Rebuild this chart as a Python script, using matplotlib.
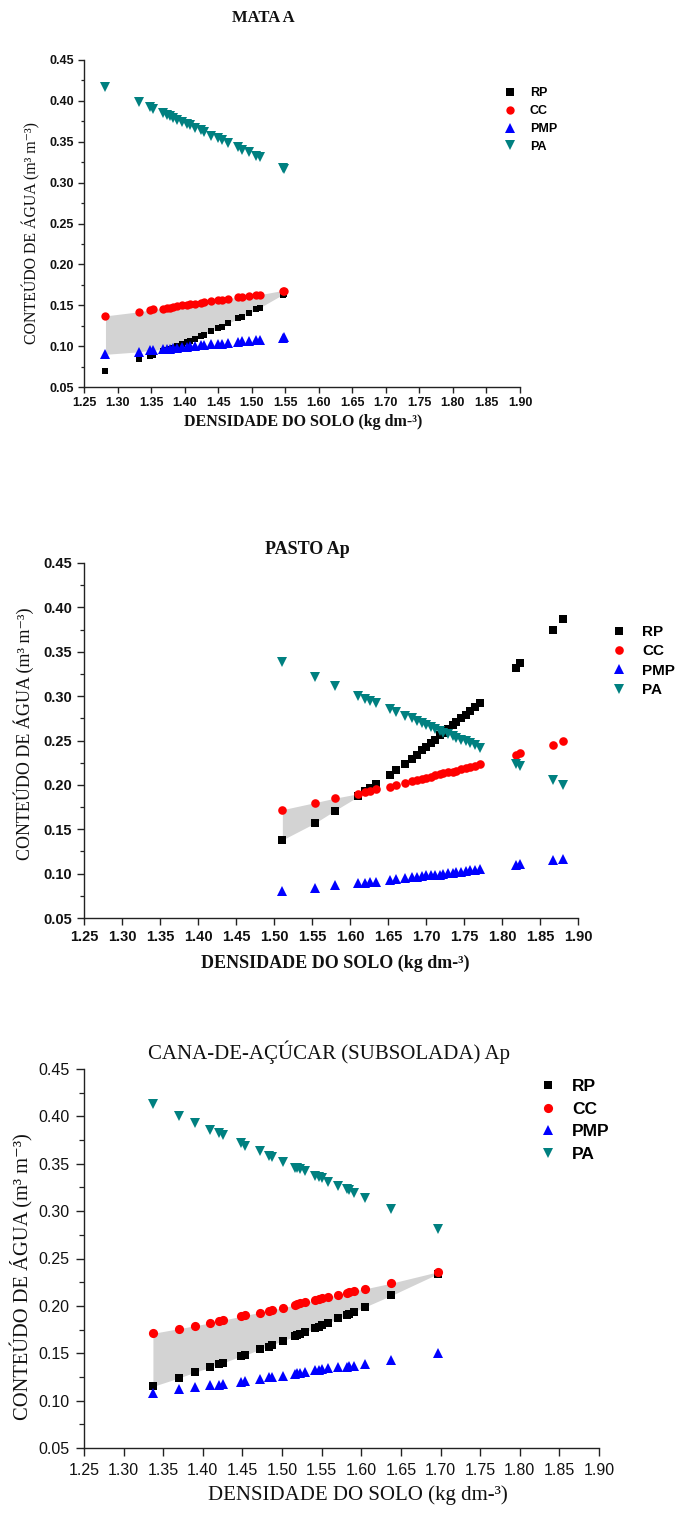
import matplotlib
matplotlib.use("Agg")
import matplotlib.pyplot as plt
import numpy as np
from matplotlib.lines import Line2D
from matplotlib.ticker import MultipleLocator, FormatStrFormatter

# ---------------- DATA ----------------
series_names = ["RP", "CC", "PMP", "PA"]
titles = ["MATA A", "PASTO Ap", "CANA-DE-AÇÚCAR (SUBSOLADA) Ap"]
xlabel_text = "DENSIDADE DO SOLO (kg dm-³)"
ylabel_text = "CONTEÚDO DE ÁGUA (m³ m⁻³)"
x_ticks = [1.25, 1.30, 1.35, 1.40, 1.45, 1.50, 1.55, 1.60, 1.65, 1.70, 1.75, 1.80, 1.85, 1.90]
y_ticks = [0.05, 0.10, 0.15, 0.20, 0.25, 0.30, 0.35, 0.40, 0.45]

# Panel 1 - MATA A
x_mata = [1.282, 1.332, 1.348, 1.353, 1.368, 1.373, 1.378, 1.383, 1.388, 1.396, 1.403, 1.408, 1.415,
          1.425, 1.429, 1.440, 1.450, 1.455, 1.465, 1.480, 1.485, 1.496, 1.507, 1.512, 1.546, 1.548]
rp_mata = [0.070, 0.084, 0.088, 0.089, 0.094, 0.095, 0.097, 0.098, 0.100, 0.103, 0.105, 0.106, 0.109,
           0.112, 0.114, 0.118, 0.122, 0.124, 0.128, 0.134, 0.136, 0.140, 0.145, 0.147, 0.163, 0.164]
cc_mata = [0.137, 0.142, 0.144, 0.145, 0.146, 0.147, 0.147, 0.148, 0.149, 0.150, 0.150, 0.151, 0.152,
           0.153, 0.154, 0.155, 0.156, 0.157, 0.158, 0.160, 0.160, 0.161, 0.163, 0.163, 0.168, 0.168]
pmp_mata = [0.090, 0.093, 0.095, 0.095, 0.096, 0.097, 0.097, 0.098, 0.098, 0.099, 0.099, 0.100, 0.100,
            0.101, 0.101, 0.102, 0.103, 0.103, 0.104, 0.105, 0.106, 0.106, 0.107, 0.108, 0.110, 0.111]
pa_mata = [0.417, 0.399, 0.392, 0.390, 0.385, 0.383, 0.381, 0.379, 0.377, 0.374, 0.372, 0.370, 0.367,
           0.364, 0.362, 0.357, 0.354, 0.352, 0.348, 0.343, 0.340, 0.337, 0.333, 0.331, 0.318, 0.317]

# Panel 2 - PASTO Ap
x_pasto = [1.511, 1.554, 1.580, 1.611, 1.620, 1.626, 1.634, 1.652, 1.661, 1.673, 1.681, 1.688, 1.695,
           1.700, 1.706, 1.712, 1.718, 1.723, 1.729, 1.735, 1.740, 1.746, 1.752, 1.758, 1.764, 1.771,
           1.818, 1.824, 1.867, 1.880]
rp_pasto = [0.138, 0.157, 0.171, 0.187, 0.193, 0.197, 0.201, 0.211, 0.217, 0.224, 0.229, 0.234, 0.239,
            0.243, 0.247, 0.251, 0.256, 0.259, 0.263, 0.267, 0.271, 0.275, 0.279, 0.283, 0.288, 0.292,
            0.332, 0.337, 0.375, 0.387]
cc_pasto = [0.172, 0.180, 0.185, 0.190, 0.192, 0.193, 0.195, 0.198, 0.200, 0.202, 0.204, 0.205, 0.207,
            0.208, 0.209, 0.211, 0.212, 0.213, 0.214, 0.215, 0.216, 0.218, 0.219, 0.220, 0.221, 0.223,
            0.234, 0.236, 0.245, 0.249]
pmp_pasto = [0.080, 0.084, 0.087, 0.089, 0.090, 0.091, 0.091, 0.093, 0.094, 0.095, 0.096, 0.096, 0.097,
             0.098, 0.098, 0.099, 0.099, 0.100, 0.101, 0.101, 0.102, 0.102, 0.103, 0.104, 0.104, 0.105,
             0.110, 0.111, 0.115, 0.117]
pa_pasto = [0.338, 0.322, 0.311, 0.300, 0.297, 0.295, 0.292, 0.285, 0.282, 0.278, 0.275, 0.272, 0.270,
            0.268, 0.265, 0.263, 0.261, 0.259, 0.257, 0.255, 0.253, 0.251, 0.249, 0.247, 0.245, 0.242,
            0.224, 0.221, 0.205, 0.200]

# Panel 3 - CANA-DE-AÇÚCAR (SUBSOLADA) Ap
x_cana = [1.337, 1.370, 1.390, 1.409, 1.421, 1.426, 1.448, 1.453, 1.472, 1.483, 1.487, 1.501, 1.516,
          1.519, 1.523, 1.529, 1.542, 1.546, 1.550, 1.558, 1.571, 1.582, 1.585, 1.591, 1.605, 1.638, 1.697]
rp_cana = [0.115, 0.124, 0.130, 0.135, 0.139, 0.140, 0.147, 0.148, 0.154, 0.157, 0.159, 0.163, 0.168,
           0.169, 0.170, 0.172, 0.177, 0.178, 0.180, 0.182, 0.187, 0.190, 0.191, 0.194, 0.199, 0.211, 0.234]
cc_cana = [0.171, 0.176, 0.179, 0.182, 0.184, 0.185, 0.189, 0.190, 0.193, 0.195, 0.196, 0.198, 0.201,
           0.202, 0.203, 0.204, 0.206, 0.207, 0.208, 0.209, 0.212, 0.214, 0.215, 0.216, 0.218, 0.224, 0.236]
pmp_cana = [0.108, 0.112, 0.114, 0.116, 0.117, 0.118, 0.120, 0.121, 0.123, 0.125, 0.125, 0.126, 0.128,
            0.129, 0.129, 0.130, 0.132, 0.132, 0.133, 0.134, 0.135, 0.136, 0.137, 0.137, 0.139, 0.143, 0.150]
pa_cana = [0.413, 0.400, 0.393, 0.386, 0.382, 0.380, 0.372, 0.369, 0.363, 0.358, 0.357, 0.352, 0.346,
           0.345, 0.344, 0.342, 0.337, 0.336, 0.335, 0.331, 0.327, 0.323, 0.322, 0.319, 0.314, 0.302, 0.281]

panels_data = [
    (x_mata, rp_mata, cc_mata, pmp_mata, pa_mata),
    (x_pasto, rp_pasto, cc_pasto, pmp_pasto, pa_pasto),
    (x_cana, rp_cana, cc_cana, pmp_cana, pa_cana),
]

# ---------------- STYLE ----------------
W, H = 675, 1515
colors = {"RP": "#000000", "CC": "#ff0000", "PMP": "#0000ff", "PA": "#008080"}
markers = {"RP": "s", "CC": "o", "PMP": "^", "PA": "v"}
SERIF = ["Liberation Serif", "DejaVu Serif"]
SANS = ["Liberation Sans", "DejaVu Sans"]

styles = [
    dict(ax=(84, 60, 520, 387), tick_fs=9, tick_w="bold", tick_len=4, pad=3.0,
         title_xy=(263, 18), title_fs=12, title_w="bold",
         xl_xy=(303, 422), xl_fs=11.5, xl_w="bold",
         yl_xy=(31, 233), yl_fs=11.4, yl_w="normal",
         ms=dict(RP=5.0, CC=6.0, PMP=6.8, PA=6.8),
         leg_x=503.75, leg_y=120, leg_fs=9, leg_hl=1.0, leg_pad=1.1, leg_ls=0.46,
         leg_ms=dict(RP=5.2, CC=6.0, PMP=7.0, PA=7.0)),
    dict(ax=(84, 563, 578, 918), tick_fs=10.5, tick_w="bold", tick_len=5, pad=3.5,
         title_xy=(307, 550), title_fs=13, title_w="bold",
         xl_xy=(335, 963), xl_fs=13, xl_w="bold",
         yl_xy=(24, 734), yl_fs=13, yl_w="normal",
         ms=dict(RP=5.2, CC=6.2, PMP=7.0, PA=7.0),
         leg_x=611.4, leg_y=661, leg_fs=11, leg_hl=1.0, leg_pad=1.0, leg_ls=0.35,
         leg_ms=dict(RP=5.4, CC=6.2, PMP=7.3, PA=7.3)),
    dict(ax=(84, 1069, 599, 1448), tick_fs=11.5, tick_w="normal", tick_len=6, pad=4.5,
         title_xy=(329, 1052), title_fs=15, title_w="normal",
         xl_xy=(358, 1495), xl_fs=15, xl_w="normal",
         yl_xy=(22, 1277), yl_fs=14.8, yl_w="normal",
         ms=dict(RP=5.6, CC=6.6, PMP=7.4, PA=7.4),
         leg_x=539.3, leg_y=1120.5, leg_fs=12.5, leg_hl=1.0, leg_pad=0.88, leg_ls=0.42,
         leg_ms=dict(RP=5.6, CC=6.6, PMP=7.6, PA=7.6)),
]

fig = plt.figure(figsize=(W / 100, H / 100), dpi=100)
fig.patch.set_facecolor("white")

for data, st, title in zip(panels_data, styles, titles):
    x, rp, cc, pmp, pa = [np.asarray(a, dtype=float) for a in data]
    l, t, r, b = st["ax"]
    ax = fig.add_axes([l / W, 1 - b / H, (r - l) / W, (b - t) / H])

    # least limiting water range shading
    lower = np.maximum(rp, pmp)
    upper = np.minimum(cc, pa)
    ax.fill_between(x, lower, upper, where=upper >= lower, interpolate=True,
                    color="#d3d3d3", lw=0, zorder=1)

    for name, vals in zip(series_names, [rp, cc, pmp, pa]):
        ax.plot(x, vals, linestyle="none", marker=markers[name], color=colors[name],
                markersize=st["ms"][name], markeredgewidth=0, zorder=3)

    ax.set_xlim(1.25, 1.90)
    ax.set_ylim(0.05, 0.45)
    ax.set_xticks(x_ticks)
    ax.set_yticks(y_ticks)
    ax.yaxis.set_minor_locator(MultipleLocator(0.025))
    ax.xaxis.set_major_formatter(FormatStrFormatter("%.2f"))
    ax.yaxis.set_major_formatter(FormatStrFormatter("%.2f"))
    for side in ["top", "right"]:
        ax.spines[side].set_visible(False)
    for side in ["left", "bottom"]:
        ax.spines[side].set_linewidth(1.0)
        ax.spines[side].set_color("#222222")
    ax.tick_params(axis="both", which="major", direction="out", length=st["tick_len"],
                   width=1.0, pad=st["pad"], colors="#222222")
    ax.tick_params(axis="y", which="minor", direction="out", length=st["tick_len"] * 0.6,
                   width=0.9, colors="#222222")
    for lab in ax.get_xticklabels() + ax.get_yticklabels():
        lab.set_fontfamily(SANS)
        lab.set_fontsize(st["tick_fs"])
        lab.set_fontweight(st["tick_w"])
        lab.set_color("#111111")

    fig.text(st["title_xy"][0] / W, 1 - st["title_xy"][1] / H, title, ha="center", va="center",
             fontsize=st["title_fs"], fontweight=st["title_w"], family=SERIF, color="#111111")
    fig.text(st["xl_xy"][0] / W, 1 - st["xl_xy"][1] / H, xlabel_text, ha="center", va="center",
             fontsize=st["xl_fs"], fontweight=st["xl_w"], family=SERIF, color="#111111")
    fig.text(st["yl_xy"][0] / W, 1 - st["yl_xy"][1] / H, ylabel_text, ha="center", va="center",
             rotation=90, fontsize=st["yl_fs"], fontweight=st["yl_w"], family=SERIF, color="#111111")

    handles = [Line2D([], [], linestyle="none", marker=markers[n], color=colors[n],
                      markersize=st["leg_ms"][n], markeredgewidth=0) for n in series_names]
    ax.legend(handles, series_names, loc="center left",
              bbox_to_anchor=(st["leg_x"] / W, 1 - st["leg_y"] / H),
              bbox_transform=fig.transFigure, frameon=False, borderpad=0,
              borderaxespad=0, handlelength=st["leg_hl"], handletextpad=st["leg_pad"],
              labelspacing=st["leg_ls"], prop=dict(family=SANS, size=st["leg_fs"], weight="bold"))

fig.savefig("out.png", dpi=100, facecolor="white")
